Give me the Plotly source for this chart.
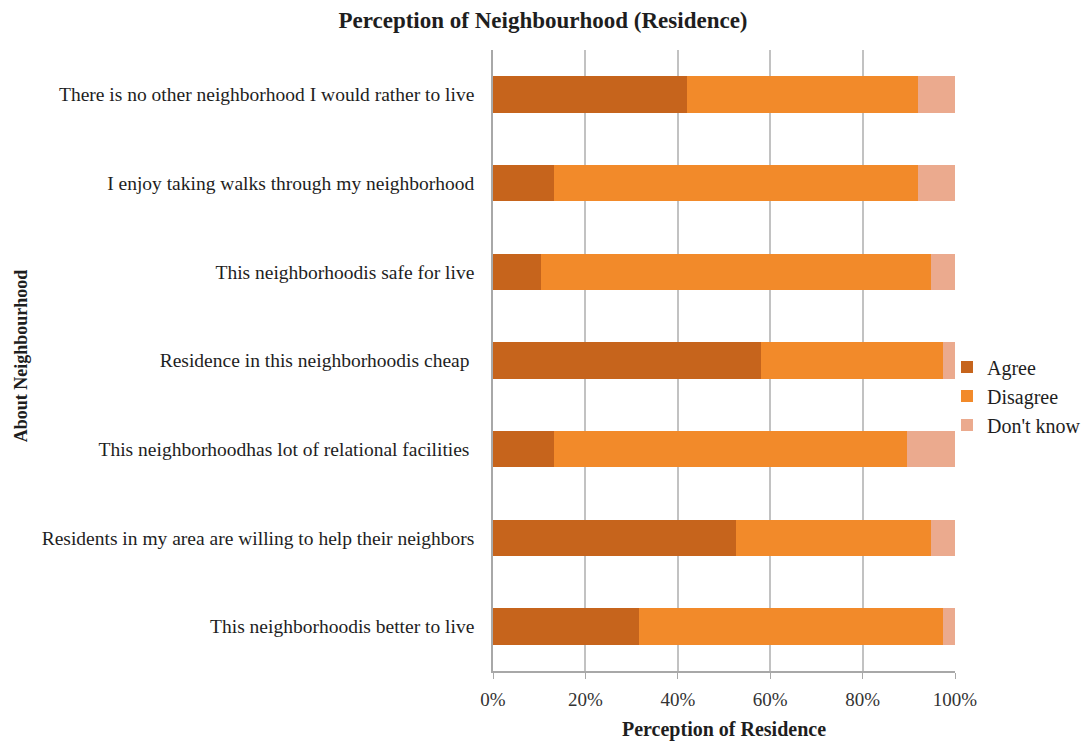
import plotly.graph_objects as go

# Survey statements (top to bottom as displayed)
statements = [
    "There is no other neighborhood I would rather to live",
    "I enjoy taking walks through my neighborhood",
    "This neighborhoodis safe for live",
    "Residence in this neighborhoodis cheap ",
    "This neighborhoodhas lot of relational facilities ",
    "Residents in my area are willing to help their neighbors",
    "This neighborhoodis better to live",
]

# Share of responses (%)
agree = [42.0, 13.1, 10.4, 58.0, 13.3, 52.6, 31.5]
disagree = [49.9, 78.8, 84.4, 39.5, 76.4, 42.2, 66.0]
dont_know = [8.1, 8.1, 5.2, 2.5, 10.3, 5.2, 2.5]

x_ticks = [0, 20, 40, 60, 80, 100]
x_tick_labels = ["0%", "20%", "40%", "60%", "80%", "100%"]

series = [
    ("Agree", agree, "#C6641C"),
    ("Disagree", disagree, "#F28A2A"),
    ("Don't know", dont_know, "#EBAA8E"),
]

serif = "Liberation Serif, Times New Roman, serif"
ink = "#1E1E1E"

fig = go.Figure()
for name, vals, color in series:
    fig.add_trace(go.Bar(
        y=statements,
        x=vals,
        name=name,
        orientation="h",
        marker=dict(color=color, line=dict(width=0)),
    ))

fig.update_layout(
    barmode="stack",
    bargap=0.59,
    width=1086,
    height=745,
    margin=dict(l=493, r=131, t=50, b=74, autoexpand=False),
    paper_bgcolor="white",
    plot_bgcolor="white",
    font=dict(family=serif, size=19, color=ink),
    title=dict(
        text="<b>Perception of Neighbourhood (Residence)</b>",
        x=0.5, xanchor="center", xref="container",
        y=0.973, yanchor="middle", yref="container",
        font=dict(family=serif, size=23, color=ink),
    ),
    legend=dict(
        xref="container", x=0.872, xanchor="left",
        yref="container", y=0.4685, yanchor="middle",
        traceorder="normal",
        font=dict(family=serif, size=20, color=ink),
        itemwidth=30,
        bgcolor="rgba(0,0,0,0)",
    ),
    showlegend=True,
)

fig.update_xaxes(
    range=[0, 100],
    tickvals=x_ticks,
    ticktext=x_tick_labels,
    showgrid=True,
    gridcolor="#C2C2C2",
    gridwidth=1.5,
    showline=True,
    linecolor="#A8A8A8",
    linewidth=1.5,
    ticks="outside",
    ticklen=6,
    tickcolor="#A8A8A8",
    ticklabelstandoff=4,
    tickfont=dict(family=serif, size=19, color="#333333"),
    zeroline=False,
    fixedrange=True,
)

fig.update_yaxes(
    categoryorder="array",
    categoryarray=list(reversed(statements)),
    autorange=True,
    showline=True,
    linecolor="#A8A8A8",
    linewidth=1.5,
    ticks="",
    ticklabelstandoff=13,
    tickfont=dict(family=serif, size=19.5, color=ink),
    showgrid=False,
    fixedrange=True,
)

# Axis titles
fig.add_annotation(
    text="<b>Perception of Residence</b>",
    x=0.5, xref="paper", xanchor="center",
    y=-0.095, yref="paper", yanchor="middle",
    showarrow=False,
    font=dict(family=serif, size=20, color=ink),
)
fig.add_annotation(
    text="<b>About Neighbourhood</b>",
    x=-1.0216, xref="paper", xanchor="center",
    y=0.507, yref="paper", yanchor="middle",
    textangle=-90,
    showarrow=False,
    font=dict(family=serif, size=18, color=ink),
)

fig.write_html("out.html")
